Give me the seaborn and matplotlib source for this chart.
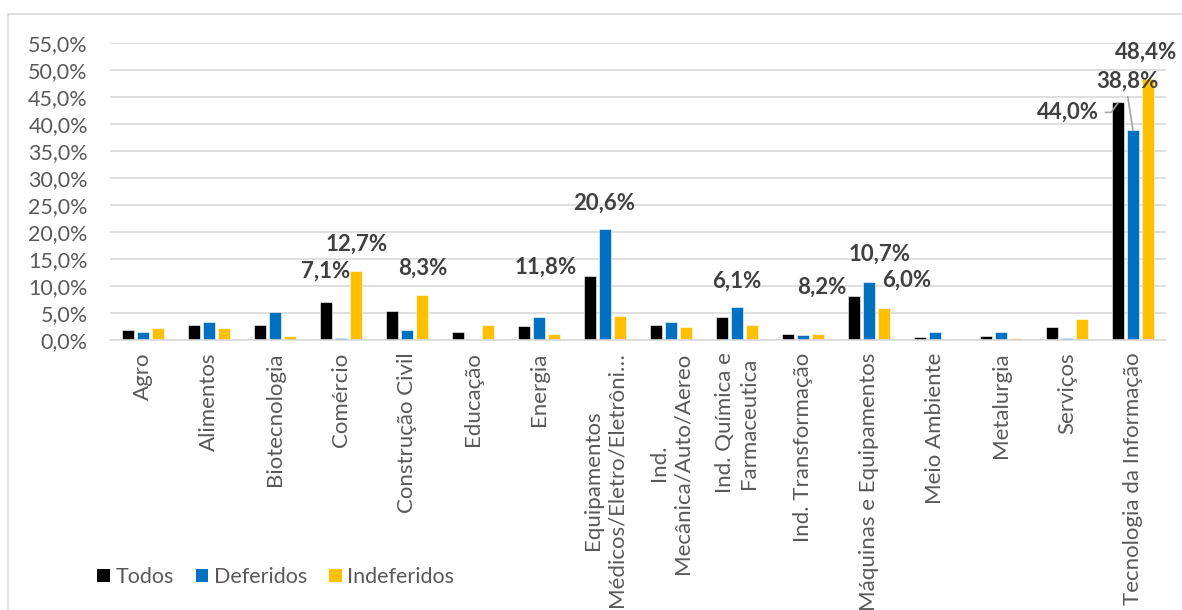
import matplotlib
matplotlib.use("Agg")
import matplotlib.pyplot as plt
from matplotlib.patches import Rectangle, Patch
import seaborn as sns
import pandas as pd

categorias = [
    "Agro", "Alimentos", "Biotecnologia", "Comércio", "Construção Civil",
    "Educação", "Energia", "Equipamentos\nMédicos/Eletro/Eletrôni…",
    "Ind.\nMecânica/Auto/Aereo", "Ind. Química e\nFarmaceutica",
    "Ind. Transformação", "Máquinas e Equipamentos", "Meio Ambiente",
    "Metalurgia", "Serviços", "Tecnologia da Informação",
]
series = ["Todos", "Deferidos", "Indeferidos"]
todos = [1.9, 2.8, 2.8, 7.1, 5.4, 1.5, 2.6, 11.8, 2.8, 4.3, 1.1, 8.2, 0.6, 0.8, 2.4, 44.0]
deferidos = [1.4, 3.25, 5.2, 0.45, 1.85, 0.0, 4.25, 20.6, 3.25, 6.1, 1.0, 10.7, 1.5, 1.5, 0.45, 38.8]
indeferidos = [2.3, 2.3, 0.8, 12.7, 8.3, 2.8, 1.2, 4.4, 2.4, 2.8, 1.2, 6.0, 0.0, 0.45, 3.9, 48.4]
yticks = [0, 5, 10, 15, 20, 25, 30, 35, 40, 45, 50, 55]

cores = ["#000000", "#0070C0", "#FFC000"]
cinza_txt = "#595959"
cinza_grid = "#D9D9D9"

df = pd.DataFrame({
    "categoria": categorias * 3,
    "serie": [s for s in series for _ in categorias],
    "valor": todos + deferidos + indeferidos,
})

sns.set_theme(style="white")
plt.rcParams["font.family"] = ["Lato", "DejaVu Sans"]

fig = plt.figure(figsize=(11.82, 6.10), dpi=100)
ax = fig.add_axes([110 / 1182, 1 - 340 / 610, 1056 / 1182, 297 / 610])

sns.barplot(data=df, x="categoria", y="valor", hue="serie", order=categorias,
            hue_order=series, palette=cores, width=0.67, gap=0.2,
            saturation=1, legend=False, ax=ax, edgecolor="white", linewidth=0.4)

ax.set_xlim(-0.5, len(categorias) - 0.5)
ax.set_ylim(0, 55)
ax.set_yticks(yticks)
ax.set_yticklabels([f"{v:.1f}%".replace(".", ",") for v in yticks])
ax.yaxis.grid(True, color=cinza_grid, linewidth=1.2)
ax.set_axisbelow(True)
ax.set_xlabel("")
ax.set_ylabel("")
for s in ["top", "left", "right"]:
    ax.spines[s].set_visible(False)
ax.spines["bottom"].set_color(cinza_grid)
ax.spines["bottom"].set_linewidth(1.2)

ax.tick_params(axis="y", length=0, pad=16, labelsize=15.5, labelcolor=cinza_txt)
ax.tick_params(axis="x", length=0, pad=9, labelsize=16, labelcolor=cinza_txt)
for lbl in ax.get_xticklabels():
    lbl.set_rotation(90)
    lbl.set_va("top")
    lbl.set_ha("center")
    lbl.set_multialignment("center")
    lbl.set_linespacing(1.2)

# data labels: (series index, category index, dx px, dy px, leader line)
rotulos = [
    (0, 3, -1, 30, None),
    (2, 3, 1, 27, None),
    (2, 4, 1, 27, None),
    (0, 7, -45, 9, None),
    (1, 7, -1, 26, None),
    (1, 9, 0, 26, None),
    (0, 11, -32, 9, None),
    (1, 11, 11, 28, None),
    (2, 11, 23, 27, None),
    (0, 15, -50, -10, "elbow"),
    (1, 15, -6, 49, "straight"),
    (2, 15, -2, 26, None),
]
for si, ci, dx, dy, leader in rotulos:
    bar = ax.containers[si][ci]
    x = bar.get_x() + bar.get_width() / 2
    h = bar.get_height()
    texto = f"{h:.1f}%".replace(".", ",")
    kw = {}
    if leader == "elbow":
        kw["arrowprops"] = dict(arrowstyle="-", color="#A6A6A6", lw=1.2,
                                shrinkA=2, shrinkB=0, relpos=(1, 0.5),
                                connectionstyle="angle,angleA=0,angleB=55,rad=0")
    elif leader == "straight":
        kw["arrowprops"] = dict(arrowstyle="-", color="#A6A6A6", lw=1.2,
                                shrinkA=1, shrinkB=0, relpos=(0.5, 0))
    ax.annotate(texto, xy=(x, h), xytext=(dx, dy), textcoords="offset pixels",
                ha="center", va="center", fontsize=16, fontweight="bold",
                color="#404040", annotation_clip=False, **kw)

handles = [Patch(facecolor=c, edgecolor="none") for c in cores]
fig.legend(handles, series, loc="center left",
           bbox_to_anchor=(78 / 1182, 1 - 577 / 610), ncol=3, frameon=False,
           fontsize=15.5, handlelength=0.6, handleheight=0.6,
           handletextpad=0.25, columnspacing=1.0, labelcolor=cinza_txt)

fig.patches.append(Rectangle((8 / 1182, -0.1), 1.2, 1.1 - 14 / 610,
                             transform=fig.transFigure, fill=False,
                             edgecolor=cinza_grid, linewidth=1.2))

fig.savefig("out.png", dpi=100, facecolor="white")
